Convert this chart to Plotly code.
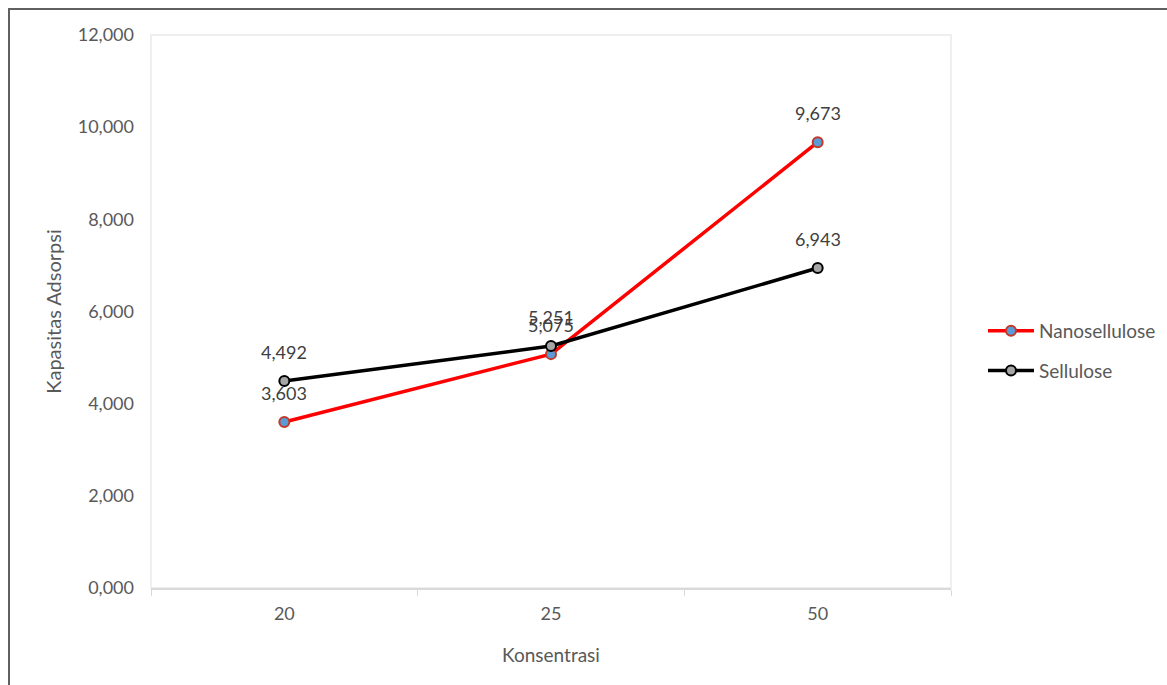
import plotly.graph_objects as go

# Data
konsentrasi = ["20", "25", "50"]
nanosellulose = [3.603, 5.075, 9.673]
sellulose = [4.492, 5.251, 6.943]

W, H = 1167, 685
L, R, T, B = 151, 216, 35, 97
pw, ph = W - L - R, H - T - B


def px_x(p):
    return (p - L) / pw


def px_y(p):
    return (H - B - p) / ph


FONT = "Lato, 'Open Sans', sans-serif"
GREY = "#595959"

fig = go.Figure()

series = [
    ("Nanosellulose", nanosellulose, "#ff0000", "#5b9bd5", "#c0392b"),
    ("Sellulose", sellulose, "#000000", "#a6a6a6", "#000000"),
]

for name, vals, lc, mfill, mline in series:
    fig.add_trace(go.Scatter(
        x=konsentrasi, y=vals, name=name, mode="lines+markers",
        legendgroup=name,
        line=dict(color=lc, width=3.5),
        marker=dict(symbol="circle", size=10, color=mfill,
                    line=dict(color=mline, width=2)),
        hoverinfo="skip",
    ))
    # value labels above each point (category index positions)
    for i, yv in enumerate(vals):
        fig.add_annotation(
            x=i, y=yv, xref="x", yref="y",
            text=f"{yv:.3f}".replace(".", ","),
            showarrow=False, yshift=29,
            font=dict(family=FONT, size=18, color="#404040"),
        )

# faint plot-area frame
fig.add_shape(type="rect", xref="paper", yref="paper", x0=0, x1=1, y0=0, y1=1,
              line=dict(color="#efefef", width=2), layer="below")

# outer picture frame (top and left edges)
fig.add_shape(type="line", xref="paper", yref="paper",
              x0=px_x(8), x1=px_x(W + 5), y0=px_y(9), y1=px_y(9),
              line=dict(color="#606060", width=2))
fig.add_shape(type="line", xref="paper", yref="paper",
              x0=px_x(9), x1=px_x(9), y0=px_y(8), y1=px_y(H + 5),
              line=dict(color="#606060", width=2))

fig.update_layout(
    width=W, height=H,
    margin=dict(l=L, r=R, t=T, b=B, autoexpand=False),
    paper_bgcolor="white", plot_bgcolor="white",
    separators=",.",
    font=dict(family=FONT, size=16, color=GREY),
    showlegend=True,
    legend=dict(x=px_x(983), y=px_y(351), xanchor="left", yanchor="middle",
                tracegroupgap=12, itemwidth=46, bgcolor="rgba(0,0,0,0)",
                font=dict(family=FONT, size=19, color=GREY)),
    xaxis=dict(
        type="category", range=[-0.5, 2.5],
        showgrid=False, zeroline=False,
        showline=True, linecolor="#d9d9d9", linewidth=2,
        ticks="outside", tickson="boundaries", ticklen=6, tickcolor="#d9d9d9",
        ticklabelstandoff=8,
        tickfont=dict(family=FONT, size=18, color=GREY),
        title=dict(text="Konsentrasi", standoff=26,
                   font=dict(family=FONT, size=19, color=GREY)),
    ),
    yaxis=dict(
        range=[0, 12], dtick=2, tickformat=".3f",
        showgrid=False, zeroline=False, showline=False,
        ticks="", ticklabelstandoff=16,
        tickfont=dict(family=FONT, size=18, color=GREY),
        title=dict(text="Kapasitas Adsorpsi", standoff=10,
                   font=dict(family=FONT, size=20, color=GREY)),
    ),
)

fig.write_html("out.html")
